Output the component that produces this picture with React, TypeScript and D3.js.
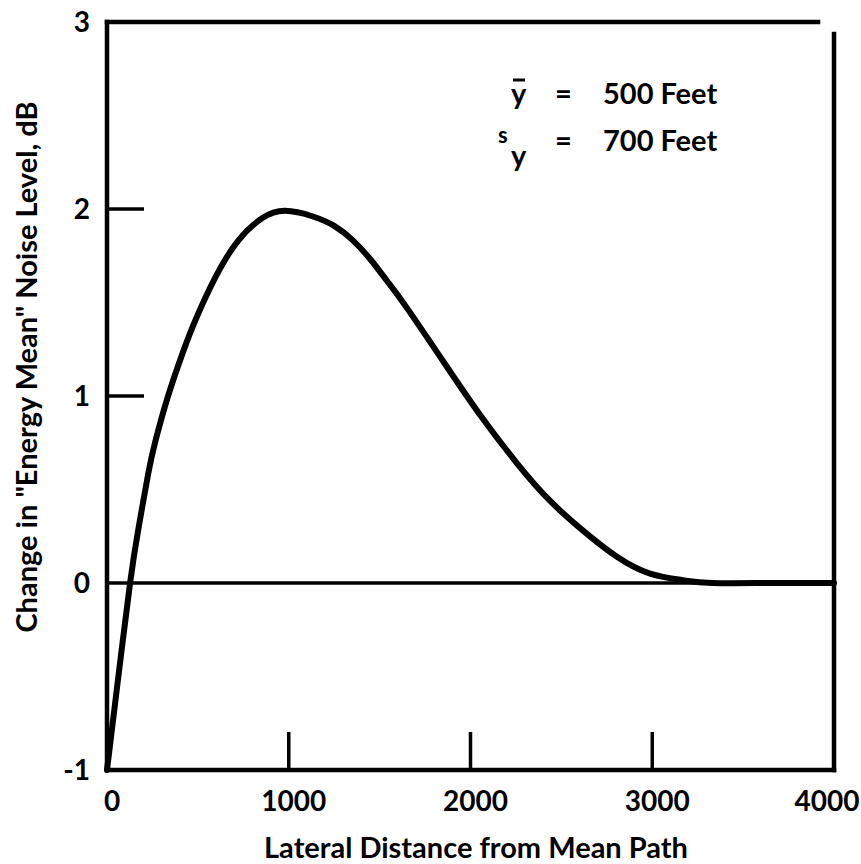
import React from "react";
import * as d3 from "d3";

const distanceFt = [0, 60, 127, 171, 226, 264, 336, 420, 484, 594, 721, 853, 979, 1133, 1250, 1350, 1450, 1541, 1651, 1871, 2052, 2256, 2437, 2619, 2806, 2988, 3169, 3330, 3650, 4000];
const changeDb = [-1, -0.52, 0, 0.28, 0.58, 0.75, 1.0, 1.24, 1.4, 1.63, 1.83, 1.95, 1.99, 1.96, 1.91, 1.835, 1.73, 1.615, 1.47, 1.155, 0.9, 0.64, 0.44, 0.28, 0.14, 0.05, 0.015, 0, 0, 0];
const xTickLabels = [0, 1000, 2000, 3000, 4000];
const xTickMarks = [1000, 2000, 3000];
const yTickLabels = [3, 2, 1, 0, -1];
const yTickMarks = [1, 2];

const W = 861, H = 864;
const FONT = "Lato, 'Open Sans', sans-serif";

export default function App() {
  const x = d3.scaleLinear().domain([0, 4000]).range([107, 834]);
  const y = d3.scaleLinear().domain([-1, 3]).range([770, 22]);
  const pts = distanceFt.map((d, i) => [d, changeDb[i]] as [number, number]);
  const line = d3.line<[number, number]>().x(d => x(d[0])).y(d => y(d[1])).curve(d3.curveNatural);

  return (
    <svg width={W} height={H} style={{ position: "absolute", left: 0, top: 0, background: "#fff" }}>
      <rect width={W} height={H} fill="#fff" />
      {/* frame */}
      <g stroke="#000" strokeWidth={4.5} fill="none" strokeLinecap="square">
        <line x1={x(0)} y1={y(3)} x2={x(0)} y2={y(-1)} />
        <line x1={x(0)} y1={y(3)} x2={818} y2={y(3)} />
        <line x1={x(4000)} y1={34} x2={x(4000)} y2={y(-1)} />
        <line x1={x(0)} y1={y(-1)} x2={x(4000)} y2={y(-1)} />
      </g>
      {/* zero line */}
      <line x1={x(0)} y1={y(0)} x2={x(4000)} y2={y(0)} stroke="#000" strokeWidth={3.5} />
      {/* ticks */}
      {yTickMarks.map(v => (
        <line key={"yt" + v} x1={x(0)} x2={x(0) + 37} y1={y(v)} y2={y(v)} stroke="#000" strokeWidth={3.5} />
      ))}
      {xTickMarks.map(v => (
        <line key={"xt" + v} x1={x(v)} x2={x(v)} y1={y(-1)} y2={y(-1) - 38} stroke="#000" strokeWidth={3.5} />
      ))}
      {/* curve */}
      <path d={line(pts) || ""} fill="none" stroke="#000" strokeWidth={6} strokeLinejoin="round" strokeLinecap="round" />
      {/* tick labels */}
      <g fontFamily={FONT} fontWeight={700} fontSize={28} fill="#000">
        {yTickLabels.map(v => (
          <text key={"yl" + v} x={90} y={y(v) + 10} textAnchor="end">{v === -1 ? "-1" : String(v)}</text>
        ))}
        {xTickLabels.map(v => (
          <text key={"xl" + v} x={Math.min(x(v) + 5, 827)} y={811} textAnchor="middle">{String(v)}</text>
        ))}
      </g>
      {/* axis titles */}
      <text x={476} y={858} textAnchor="middle" fontFamily={FONT} fontWeight={700} fontSize={29}>Lateral Distance from Mean Path</text>
      <text transform="translate(37,367) rotate(-90)" textAnchor="middle" fontFamily={FONT} fontWeight={700} fontSize={29}>Change in "Energy Mean" Noise Level, dB</text>
      {/* annotation */}
      <g fontFamily={FONT} fontWeight={700} fontSize={29} fill="#000">
        <text x={511} y={104}>y</text>
        <line x1={513} x2={525} y1={80} y2={80} stroke="#000" strokeWidth={3} />
        <text x={555} y={104}>=</text>
        <text x={603} y={104}>500 Feet</text>
        <text x={498} y={143} fontSize={22}>s</text>
        <text x={511} y={166}>y</text>
        <text x={555} y={151}>=</text>
        <text x={603} y={151}>700 Feet</text>
      </g>
    </svg>
  );
}
